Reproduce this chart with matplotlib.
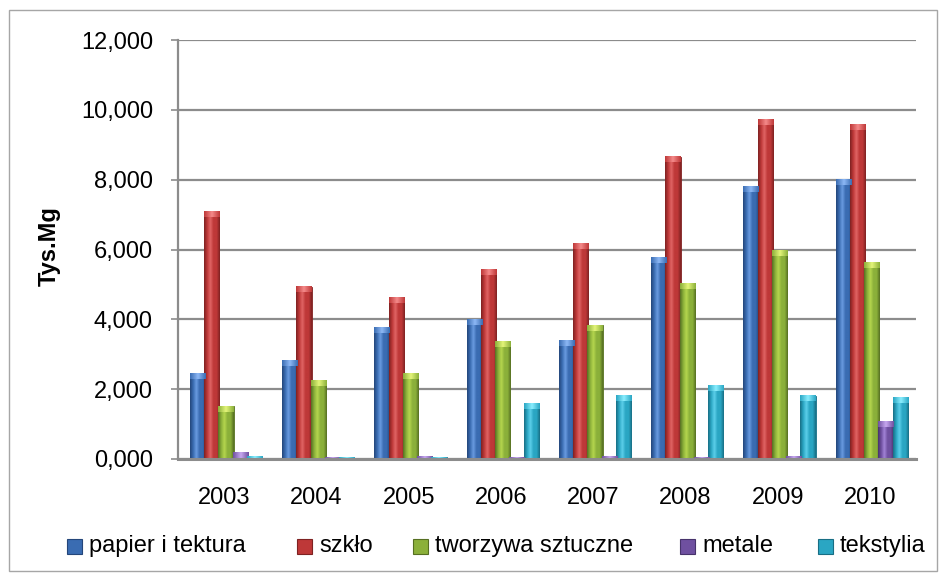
import matplotlib
matplotlib.use("Agg")
import matplotlib.pyplot as plt
import numpy as np
from matplotlib.patches import Rectangle
from matplotlib.colors import LinearSegmentedColormap

years = ["2003", "2004", "2005", "2006", "2007", "2008", "2009", "2010"]
series_names = ["papier i tektura", "szkło", "tworzywa sztuczne", "metale", "tekstylia"]
papier = [2430, 2800, 3750, 4000, 3400, 5770, 7800, 8000]
szklo = [7090, 4940, 4630, 5430, 6170, 8660, 9710, 9570]
tworzywa = [1510, 2230, 2430, 3370, 3830, 5030, 5970, 5630]
metale = [170, 50, 80, 50, 60, 30, 60, 1080]
tekstylia = [80, 50, 50, 1570, 1800, 2110, 1800, 1740]
values = [papier, szklo, tworzywa, metale, tekstylia]
yticks = [0, 2000, 4000, 6000, 8000, 10000, 12000]
ytick_labels = ["0,000", "2,000", "4,000", "6,000", "8,000", "10,000", "12,000"]

colors = ["#3A6CB2", "#BE3838", "#8BB03A", "#6F50A0", "#2AA6C3"]
dark = ["#24467A", "#7E2222", "#566F22", "#47336B", "#186E84"]
light = ["#6A9BE0", "#E06464", "#B5D64E", "#A283D6", "#5CCFEA"]
cap_col = ["#8DB8F5", "#F58A8A", "#E4F57A", "#C7A8F0", "#8AEEFF"]

W, H = 947, 581
plt.rcParams['font.family'] = ['Liberation Sans', 'DejaVu Sans']
fig = plt.figure(figsize=(W / 100, H / 100), dpi=100)
L, R, T, B = 178, 916, 40, 459
ax = fig.add_axes([L / W, 1 - B / H, (R - L) / W, (B - T) / H])

# outer border
fig.patches.append(Rectangle((9 / W, 10 / H), 928 / W, 561 / H, transform=fig.transFigure,
                             fill=False, edgecolor="#a6a6a6", linewidth=1.0))

x = np.arange(len(years))
bw = 0.165
step = 0.155
ax.set_xlim(-0.5, len(years) - 0.5)
ax.set_ylim(0, 12000)
cap_h = 150
for i, vals in enumerate(values):
    pos = x + (i - 2) * step + 0.02
    bars = ax.bar(pos, vals, width=bw, color=colors[i], edgecolor=dark[i],
                  linewidth=0.6, zorder=3, label=series_names[i])
    cmap = LinearSegmentedColormap.from_list(
        "c%d" % i, [dark[i], colors[i], light[i], colors[i], colors[i], dark[i]])
    grad = np.linspace(0, 1, 64).reshape(1, -1)
    for p in bars:
        x0, w, h = p.get_x(), p.get_width(), p.get_height()
        ax.imshow(grad, cmap=cmap, extent=(x0, x0 + w, 0, h), aspect='auto',
                  zorder=4, interpolation='bilinear')
        ch = min(cap_h, h)
        ax.imshow(grad, cmap=LinearSegmentedColormap.from_list(
            "k%d" % i, [colors[i], cap_col[i], colors[i]]),
            extent=(x0, x0 + w, h - ch, h), aspect='auto', zorder=5,
            interpolation='bilinear')
ax.set_xlim(-0.5, len(years) - 0.5)
ax.set_ylim(0, 12000)
ax.set_aspect('auto')

ax.set_yticks(yticks)
ax.set_yticklabels(ytick_labels)
ax.set_xticks(x)
ax.set_xticklabels(years)
ax.tick_params(axis='both', labelsize=17, colors="black")
ax.tick_params(axis='x', length=0, pad=20)
ax.tick_params(axis='y', length=5, width=1.2, color="#8c8c8c", pad=13)
ax.yaxis.grid(True, color="#8c8c8c", linewidth=1.6, zorder=0)
ax.set_axisbelow(True)
for s in ["top", "right"]:
    ax.spines[s].set_visible(False)
ax.spines["left"].set_color("#8c8c8c")
ax.spines["left"].set_linewidth(1.6)
ax.spines["bottom"].set_color("#8c8c8c")
ax.spines["bottom"].set_linewidth(2.2)
ax.spines["bottom"].set_zorder(6)
ax.set_ylabel("Tys.Mg", fontsize=17, fontweight="bold")
ax.yaxis.set_label_coords((61 - L) / (R - L), (B - 246) / (B - T))

# legend (manual placement to match reference layout)
leg_x = [67, 297, 413, 680, 818]
leg_y = 546
for i, name in enumerate(series_names):
    fig.patches.append(Rectangle((leg_x[i] / W, 1 - (leg_y + 8) / H), 15 / W, 15 / H,
                                 transform=fig.transFigure, facecolor=colors[i],
                                 edgecolor=dark[i], linewidth=0.8))
    fig.text((leg_x[i] + 22) / W, 1 - leg_y / H, name, fontsize=17,
             ha="left", va="center")

fig.savefig("out.png", dpi=100)
